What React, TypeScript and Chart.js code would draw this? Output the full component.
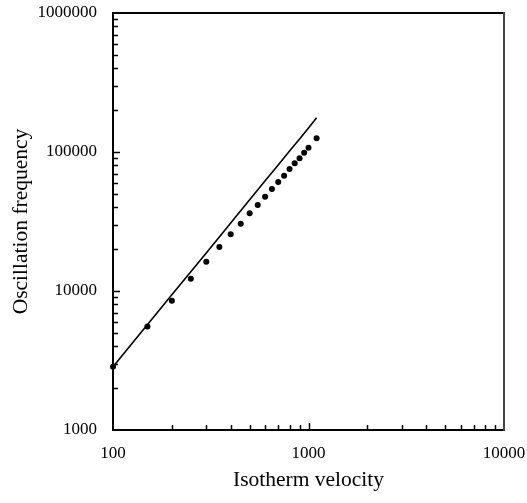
import { useEffect, useRef } from "react";
import { Chart, registerables } from "chart.js";

Chart.register(...registerables);

// Measured points (dots)
const velocity = [100, 150, 200, 250, 300, 350, 400, 450, 500, 550, 600, 650, 700, 750, 800, 850, 900, 950, 1000, 1100];
const frequency = [2850, 5550, 8520, 12260, 16250, 20730, 25580, 30500, 36200, 41550, 47700, 54200, 60900, 67600, 75500, 82900, 90100, 98900, 107400, 125500];

// Model curve (solid line)
const modelVelocity = [100, 200, 300, 400, 500, 600, 700, 800, 900, 1000, 1100];
const modelFrequency = [2850, 9400, 18800, 30800, 45300, 62000, 80700, 101500, 124000, 148900, 176500];

const xDecades = [100, 1000, 10000];
const yDecades = [1000, 10000, 100000, 1000000];

const xTitle = "Isotherm velocity";
const yTitle = "Oscillation frequency";

const FONT = "'Liberation Serif', 'Times New Roman', serif";

const frameAndTicks = {
  id: "frameAndTicks",
  afterDatasetsDraw(chart: any) {
    const { ctx, chartArea: a, scales } = chart;
    const x = scales.x;
    const y = scales.y;
    ctx.save();
    ctx.strokeStyle = "#000";
    ctx.lineWidth = 1.5;
    ctx.beginPath();
    for (let i = 0; i < xDecades.length - 1; i++) {
      for (let m = 1; m <= 9; m++) {
        const v = xDecades[i] * m;
        if (v <= xDecades[0]) continue;
        const px = Math.round(x.getPixelForValue(v)) + 0.5;
        const len = m === 1 ? 7 : 5;
        ctx.moveTo(px, a.bottom);
        ctx.lineTo(px, a.bottom - len);
      }
    }
    for (let i = 0; i < yDecades.length - 1; i++) {
      for (let m = 1; m <= 9; m++) {
        const v = yDecades[i] * m;
        if (v <= yDecades[0]) continue;
        const py = Math.round(y.getPixelForValue(v)) + 0.5;
        const len = m === 1 ? 7 : 5;
        ctx.moveTo(a.left, py);
        ctx.lineTo(a.left + len, py);
      }
    }
    ctx.stroke();
    ctx.lineWidth = 2;
    ctx.strokeStyle = "#000";
    ctx.beginPath();
    ctx.moveTo(a.right, a.top);
    ctx.lineTo(a.left, a.top);
    ctx.lineTo(a.left, a.bottom);
    ctx.lineTo(a.right, a.bottom);
    ctx.stroke();
    ctx.strokeStyle = "#444";
    ctx.beginPath();
    ctx.moveTo(a.right, a.top - 1);
    ctx.lineTo(a.right, a.bottom + 1);
    ctx.stroke();
    ctx.restore();
  },
};

export default function App() {
  const ref = useRef<HTMLCanvasElement | null>(null);

  useEffect(() => {
    if (!ref.current) return;
    const chart = new Chart(ref.current, {
      type: "scatter",
      data: {
        datasets: [
          {
            type: "line",
            data: modelVelocity.map((v, i) => ({ x: v, y: modelFrequency[i] })),
            borderColor: "#000",
            borderWidth: 1.6,
            pointRadius: 0,
            fill: false,
            tension: 0,
            clip: false as any,
          },
          {
            type: "scatter",
            data: velocity.map((v, i) => ({ x: v, y: frequency[i] })),
            backgroundColor: "#000",
            borderColor: "#000",
            borderWidth: 0,
            pointRadius: 3,
            clip: false as any,
          },
        ],
      },
      options: {
        animation: false,
        responsive: false,
        events: [],
        layout: { padding: { top: 13, right: 23, left: 0, bottom: 0 } },
        plugins: { legend: { display: false }, tooltip: { enabled: false } },
        scales: {
          x: {
            type: "logarithmic",
            min: 100,
            max: 10000,
            grid: { display: false, drawTicks: false },
            border: { display: false },
            afterFit: (s: any) => {
              s.height = 73;
              s.paddingLeft = 0;
              s.paddingRight = 0;
            },
            ticks: {
              autoSkip: false,
              maxRotation: 0,
              padding: 13,
              color: "#000",
              font: { family: FONT, size: 17 },
              callback: (v: any) => (xDecades.includes(Number(v)) ? String(v) : ""),
            },
            title: {
              display: true,
              text: xTitle,
              color: "#000",
              font: { family: FONT, size: 21.5 },
              padding: { top: 0, bottom: 10 },
            },
          },
          y: {
            type: "logarithmic",
            min: 1000,
            max: 1000000,
            grid: { display: false, drawTicks: false },
            border: { display: false },
            afterFit: (s: any) => {
              s.width = 113;
              s.paddingTop = 0;
              s.paddingBottom = 0;
            },
            ticks: {
              autoSkip: false,
              padding: 16,
              color: "#000",
              font: { family: FONT, size: 17 },
              callback: (v: any) => (yDecades.includes(Number(v)) ? String(v) : ""),
            },
            title: {
              display: true,
              text: yTitle,
              color: "#000",
              font: { family: FONT, size: 21.5 },
              padding: { top: 8, bottom: 0 },
            },
          },
        },
      },
      plugins: [frameAndTicks],
    });
    return () => chart.destroy();
  }, []);

  return (
    <div style={{ position: "absolute", left: 0, top: 0, width: 527, height: 503, background: "#fff" }}>
      <canvas ref={ref} width={527} height={503} style={{ display: "block" }} />
    </div>
  );
}
